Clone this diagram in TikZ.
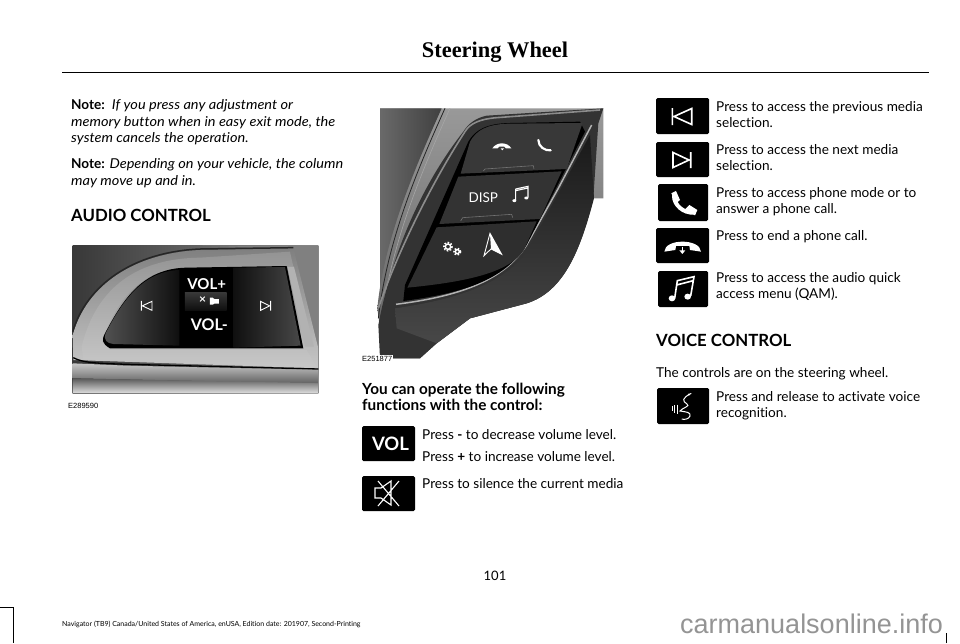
\documentclass[tikz,border=0pt]{standalone}
\usepackage{fontspec}
\setmainfont[Ligatures={NoCommon},ItalicFeatures={FakeStretch=1.07}]{Lato}
\newfontfamily\titlefont{Liberation Serif}
\newfontfamily\codefont{Liberation Sans}
\usetikzlibrary{positioning}
\tikzset{
  bodytext/.style={anchor=north west,inner sep=0pt,align=left,font=\fontsize{13.6}{16.5}\selectfont},
  headtext/.style={anchor=north west,inner sep=0pt,align=left,font=\fontsize{16.8}{18}\selectfont\bfseries},
  tagtext/.style={anchor=north west,inner sep=1pt,font=\codefont\fontsize{7.5}{8}\selectfont},
  iconbox/.style={fill=black,rounded corners=1.5pt},
  iconline/.style={draw=white,line width=1.6pt,line join=miter},
}
\begin{document}
\begin{tikzpicture}[x=1pt,y=-1pt]
  \useasboundingbox (0,0) rectangle (960,643);
  \fill[white] (0,0) rectangle (960,643);

  % page head
  \node[inner sep=0pt,font=\titlefont\fontsize{22.4}{24}\selectfont\bfseries] (title) at (495,52) {Steering Wheel};
  \coordinate (ruleL) at (62,72);
  \coordinate (ruleR) at (929,72);
  \draw[line width=.8pt] (ruleL) -- (ruleR);

  % left column
  \node[bodytext] (noteA) at (71,99.5) {\textbf{Note:}\ \ \textit{If you press any adjustment or}\\\textit{memory button when in easy exit mode, the}\\\textit{system cancels the operation.}};
  \node[bodytext] (noteB) at (71,158.5) {\textbf{Note:} \textit{Depending on your vehicle, the column}\\\textit{may move up and in.}};
  \node[headtext] (audio) at (71,209) {AUDIO CONTROL};
  \node[tagtext] (tagA) at (67,402) {E289590};

  % audio photo
  \begin{scope}[shift={(60,235)},x=.3333pt,y=-.3333pt]
    \shade[left color=black!78,right color=black!45] (38,32) rectangle (775,475);
    \fill[black!50] (420,32) -- (775,32) -- (775,340) -- (700,40) -- cycle;
    \shade[top color=black!50,bottom color=black!22] (38,300) .. controls (80,150) and (220,55) .. (420,45) -- (700,40) -- (775,340) -- (775,400) -- (40,375) -- cycle;
    \draw[black!85,line width=1.5pt] (38,290) .. controls (80,150) and (220,50) .. (420,42) -- (700,38);
    \shade[top color=black!42,bottom color=black!22] (65,335) .. controls (110,150) and (240,70) .. (420,68) -- (690,50) -- (700,95) -- (380,98) .. controls (250,100) and (170,190) .. (125,320) -- (150,345) -- (740,345) -- (770,395) -- (70,375) -- cycle;
    \draw[black,line width=1.3pt] (40,368) .. controls (70,385) and (120,385) .. (200,388) -- (775,402);
    \shade[top color=black!22,bottom color=black!62] (38,385) -- (200,392) -- (775,405) -- (775,445) -- (38,430) -- cycle;
    \shade[top color=black!65,bottom color=black!12] (38,430) -- (775,445) -- (775,475) -- (38,475) -- cycle;
    \fill[black!30] (682,95) -- (702,95) -- (762,335) -- (735,335) -- cycle;
    \fill[black] (380,98) -- (680,93) -- (730,340) -- (150,340) .. controls (125,325) and (125,315) .. (135,295) .. controls (190,190) and (250,100) .. (380,98) -- cycle;
    \shade[left color=black!68,right color=black!94] (358,105) .. controls (255,108) and (190,190) .. (137,295) .. controls (130,315) and (140,325) .. (160,327) -- (358,332) -- cycle;
    \shade[left color=black!94,right color=black!72] (520,98) -- (675,96) -- (722,332) -- (520,338) -- cycle;
    \shade[top color=black!78,bottom color=black!95] (375,172) -- (500,172) -- (500,228) -- (375,228) -- cycle;
    \draw[white,line width=.9pt] (244,198) -- (244,227) (276,199) -- (276,226) -- (247,212.5) -- cycle;
    \draw[white,line width=.9pt] (632,198) -- (632,227) (602,199) -- (602,226) -- (629,212.5) -- cycle;
    \node[text=white,inner sep=0pt,font=\fontsize{15}{15}\selectfont\bfseries] (volP) at (440,148) {VOL+};
    \node[text=white,inner sep=0pt,font=\fontsize{16}{16}\selectfont\bfseries] (volM) at (448,269) {VOL-};
    \node[text=white,inner sep=0pt,font=\fontsize{12}{12}\selectfont\bfseries] (muteX) at (428,196) {×};
    \fill[white] (450,188) -- (458,188) -- (463,192) -- (477,192) -- (477,206) -- (463,206) -- (458,209) -- (450,209) -- cycle;
  \end{scope}

  % middle column
  \node[headtext,font=\fontsize{15.3}{16.3}\selectfont\bfseries] (operate) at (362,383) {You can operate the following\\functions with the control:};
  \node[bodytext] (volDown) at (422,429) {Press \textbf{-} to decrease volume level.};
  \node[bodytext] (volUp) at (422,451) {Press \textbf{+} to increase volume level.};
  \node[bodytext] (silence) at (422,478) {Press to silence the current media};

  % wheel photo
  \begin{scope}[shift={(370,95)},x=.3333pt,y=-.3333pt]
    \shade[top color=black!40,bottom color=black!62] (30,40) -- (700,40) -- (700,310) -- (670,310) .. controls (630,470) and (580,590) .. (470,625) -- (300,670) -- (200,745) -- (150,790) -- (30,790) -- cycle;
    \shade[left color=black!58,right color=black!75] (30,40) -- (215,40) .. controls (120,250) and (40,450) .. (22,640) -- (30,700) -- cycle;
    \draw[black!85,line width=.8pt] (225,40) .. controls (130,250) and (50,450) .. (25,670);
    \draw[black!35,line width=.6pt] (240,40) .. controls (145,250) and (65,450) .. (35,670);
    % housing
    \fill[black!80] (350,62) -- (700,40) -- (685,85) -- (670,310) .. controls (630,470) and (580,590) .. (470,625) -- (300,670) -- (200,745) -- (150,790) -- (30,790) -- (25,690) .. controls (70,450) and (170,250) .. (280,110) .. controls (295,85) and (320,68) .. (350,62) -- cycle;
    \shade[top color=black!90,bottom color=black!72] (75,640) .. controls (250,615) and (400,570) .. (470,470) -- (660,120) -- (672,310) .. controls (630,470) and (580,590) .. (470,625) -- (300,670) -- (200,745) -- (80,700) -- cycle;
    \draw[black!30,line width=1.5pt] (78,628) .. controls (260,605) and (400,560) .. (470,450) -- (565,280) -- (665,90);
    \draw[black!45,line width=1.6pt] (25,640) .. controls (90,450) and (200,240) .. (285,110) .. controls (300,85) and (330,72) .. (380,68) -- (690,45);
    % buttons
    \fill[black] (630,80) -- (420,84) .. controls (350,85) and (315,105) .. (295,140) -- (105,570) -- (100,618) .. controls (270,595) and (400,560) .. (470,450) -- (645,110) -- cycle;
    \fill[black!78] (415,86) -- (638,84) -- (590,222) -- (272,236) -- (300,140) .. controls (320,105) and (350,88) .. (415,86) -- cycle;
    \fill[black!80] (265,245) -- (575,229) -- (510,372) -- (208,387) -- cycle;
    \fill[black!82] (200,397) -- (500,379) -- (462,465) .. controls (420,530) and (300,560) .. (112,578) -- cycle;
    \draw[black!55,line width=.6pt] (340,228) -- (345,222) -- (490,212) -- (492,222) (272,378) -- (278,368) -- (425,358) -- (428,368);
    % wheel glyphs
    \fill[white] (367,160) .. controls (380,140) and (412,140) .. (424,160) -- (408,160) -- (403,155) -- (388,155) -- (383,160) -- cycle;
    \fill[white] (392,160) -- (402,160) -- (397,166) -- cycle;
    \draw[white,line width=2.2pt,line cap=round] (505,135) .. controls (505,155) and (525,168) .. (542,166);
    \node[text=white,inner sep=0pt,font=\fontsize{13.5}{14}\selectfont] (disp) at (340,307) {DISP};
    \draw[white,line width=1.1pt] (437,282) -- (437,316) (437,282) -- (474,274) -- (474,308) (437,287) -- (474,279);
    \fill[white] (433,317) ellipse (6 and 4.5) (469,309) ellipse (6 and 4.5);
    \draw[white,line width=1.4pt] (234,455) circle (8) (262,470) circle (6);
    \draw[white,line width=1.8pt,dash pattern=on 1.5pt off 1.5pt] (234,455) circle (12) (262,470) circle (9.5);
    \draw[white,line width=.9pt,line join=miter,fill=black!82] (360,415) -- (395,478) -- (363,462) -- (342,482) -- cycle;
    \fill[white] (360,415) -- (395,478) -- (363,462) -- cycle;
  \end{scope}
  \node[tagtext,fill=white] (tagB) at (361,355) {E251877};

  % icon boxes
  \fill[iconbox] (362,426) rectangle (415,461);
  \fill[iconbox] (362,476) rectangle (415,511);
  \fill[iconbox] (656,98) rectangle (709,134);
  \fill[iconbox] (656,142) rectangle (709,177);
  \fill[iconbox] (658,184) rectangle (708,221);
  \fill[iconbox] (656,228) rectangle (709,263);
  \fill[iconbox] (658,271) rectangle (708,307);
  \fill[iconbox] (657,388) rectangle (709,424);

  \node[text=white,inner sep=0pt,font=\fontsize{18.5}{18}\selectfont\bfseries] (volIcon) at (390.5,444) {VOL};
  \draw[iconline,line width=1.1pt] (375,488) -- (381,488) -- (391,481) -- (391,505) -- (381,498) -- (375,498) -- cycle (399,481) -- (378,506) (378,481) -- (399,506);

  \draw[iconline] (672.3,108) -- (672.3,125) (691.7,108.5) -- (691.7,124.5) -- (674,116.5) -- cycle;
  \draw[iconline] (690.7,152) -- (690.7,168) (673,152.5) -- (673,167.5) -- (689,160) -- cycle;

  % icons drawn at 3x
  \begin{scope}[shift={(650,90)},x=.3333pt,y=-.3333pt]
    \draw[white,line width=4pt,line cap=round] (72,318) .. controls (72,345) and (100,370) .. (132,368);
    \fill[white] (64,310) -- (78,303) -- (90,330) -- (78,340) -- cycle (105,358) -- (118,345) -- (142,360) -- (135,376) -- cycle;
    \fill[white] (43,485) .. controls (45,445) and (150,445) .. (153,485) -- (120,480) -- (118,468) -- (78,468) -- (76,480) -- cycle;
    \draw[white,line width=1.2pt] (97,470) -- (97,482);
    \fill[white] (88,481) -- (106,481) -- (97,492) -- cycle;
    \draw[white,line width=1.6pt] (74,625) -- (82,572) -- (132,560) -- (122,618) (80,585) -- (130,572);
    \fill[white] (66,625) ellipse (10 and 9) (113,620) ellipse (10 and 9);
  \end{scope}
  \draw[iconline,line width=1pt,line cap=round] (691,393.5) .. controls (682,398) and (682,401) .. (687,404) .. controls (691,406) and (682,408) .. (680,411) .. controls (686,412) and (691,412) .. (690,416) .. controls (689,419) and (684,420) .. (682,419);
  \fill[white] (689,394.5) circle (1.1);
  \draw[iconline,line width=.9pt] (672,406) -- (672,411) (674.5,405) -- (674.5,413) (677,404.5) -- (677,414);

  % right column
  \node[bodytext] (prevT) at (716,101) {Press to access the previous media\\selection.};
  \node[bodytext] (nextT) at (716,144) {Press to access the next media\\selection.};
  \node[bodytext] (phoneT) at (716,187) {Press to access phone mode or to\\answer a phone call.};
  \node[bodytext] (endT) at (716,230) {Press to end a phone call.};
  \node[bodytext] (qamT) at (716,272) {Press to access the audio quick\\access menu (QAM).};
  \node[headtext] (voice) at (656,334) {VOICE CONTROL};
  \node[bodytext] (wheelT) at (656,367) {The controls are on the steering wheel.};
  \node[bodytext] (voiceT) at (716,391) {Press and release to activate voice\\recognition.};

  % page foot
  \node[inner sep=0pt,font=\fontsize{13}{14}\selectfont] (pageno) at (495,575.5) {101};
  \node[anchor=west,inner sep=0pt,font=\fontsize{7}{8}\selectfont] (foot) at (62,624) {Navigator (TB9) Canada/United States of America, enUSA, Edition date: 201907, Second-Printing};
  \node[anchor=base west,inner sep=0pt,text=black!42,font=\codefont\fontsize{27}{28}\selectfont] (mark) at (680,633) {carmanualsonline.info};
  \coordinate (markA) at (0,607);
  \coordinate (markB) at (13,607);
  \coordinate (markC) at (13,643);
  \draw[line width=.7pt] (markA) -- (markB) -- (markC);
  \coordinate (markD) at (946.5,643);
  \coordinate (markE) at (946.5,633);
  \draw[line width=.7pt] (markD) -- (markE);
\end{tikzpicture}
\end{document}
